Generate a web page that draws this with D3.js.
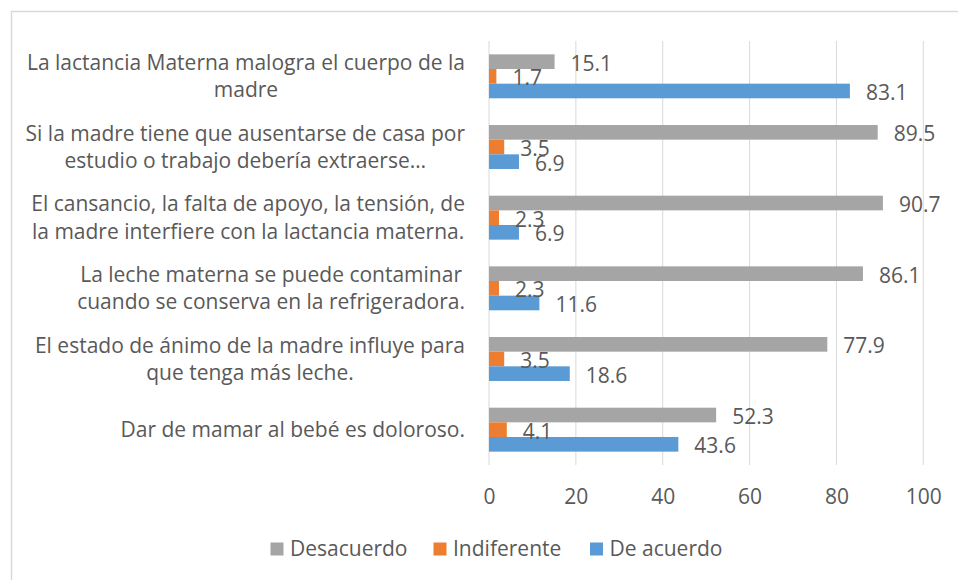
<!DOCTYPE html>
<html>
<head>
<meta charset="utf-8">
<script src="https://cdn.jsdelivr.net/npm/d3@7"></script>
<style>
  html, body { margin: 0; padding: 0; background: #fff; }
  svg text { font-family: "Open Sans", sans-serif; fill: #595959; }
</style>
</head>
<body>
<div id="chart"></div>
<script>
// categories, top to bottom, already split in lines as in the original
const categories = [
  ["La lactancia Materna malogra el cuerpo de la", "madre"],
  ["Si la madre tiene que ausentarse de casa por", "estudio o trabajo debería extraerse…"],
  ["El cansancio, la falta de apoyo, la tensión, de", "la madre interfiere con la lactancia materna."],
  ["La leche materna se puede contaminar", "cuando se conserva en la refrigeradora."],
  ["El estado de ánimo de la madre influye para", "que tenga más leche."],
  ["Dar de mamar al bebé es doloroso."]
];
const seriesNames = ["Desacuerdo", "Indiferente", "De acuerdo"];
const desacuerdo = [15.1, 89.5, 90.7, 86.1, 77.9, 52.3];
const indiferente = [1.7, 3.5, 2.3, 2.3, 3.5, 4.1];
const deAcuerdo = [83.1, 6.9, 6.9, 11.6, 18.6, 43.6];
const xTicks = [0, 20, 40, 60, 80, 100];

const colors = ["#a5a5a5", "#ed7d31", "#5b9bd5"];
const seriesValues = [desacuerdo, indiferente, deAcuerdo];

const width = 958, height = 580;
const fs = 21;

const svg = d3.select("#chart").append("svg")
  .attr("width", width)
  .attr("height", height);

// chart frame (only top and left edges visible)
svg.append("rect")
  .attr("x", 11.5).attr("y", 11.5)
  .attr("width", 1000).attr("height", 700)
  .attr("fill", "none")
  .attr("stroke", "#d9d9d9")
  .attr("stroke-width", 1.5);

const x = d3.scaleLinear().domain([0, 100]).range([489, 923.3]);

const y = d3.scaleBand()
  .domain(d3.range(categories.length))
  .range([41, 465])
  .paddingInner(0.378)
  .paddingOuter(0.189);

const ySub = d3.scaleBand()
  .domain(d3.range(seriesNames.length))
  .range([0, y.bandwidth()]);

// gridlines
svg.append("g")
  .selectAll("line")
  .data(xTicks)
  .join("line")
  .attr("x1", d => x(d)).attr("x2", d => x(d))
  .attr("y1", 41).attr("y2", 465)
  .attr("stroke", "#d9d9d9")
  .attr("stroke-width", 1);

// x axis labels
const xAxis = svg.append("g")
  .attr("transform", "translate(0,465)")
  .call(d3.axisBottom(x).tickValues(xTicks).tickSize(0).tickPadding(0));
xAxis.select(".domain").remove();
xAxis.selectAll("text")
  .attr("y", 32)
  .attr("dy", "0.35em")
  .style("font-size", fs + "px")
  .style("font-family", "'Open Sans', sans-serif")
  .attr("fill", "#595959");

// bars
const rows = [];
categories.forEach((c, i) => {
  seriesValues.forEach((vals, s) => {
    rows.push({ cat: i, s: s, value: vals[i] });
  });
});

svg.append("g")
  .selectAll("rect")
  .data(rows)
  .join("rect")
  .attr("x", x(0))
  .attr("y", d => y(d.cat) + ySub(d.s))
  .attr("width", d => x(d.value) - x(0))
  .attr("height", ySub.bandwidth())
  .attr("fill", d => colors[d.s]);

// value labels
svg.append("g")
  .selectAll("text")
  .data(rows)
  .join("text")
  .attr("x", d => x(d.value) + 16)
  .attr("y", d => y(d.cat) + ySub(d.s) + ySub.bandwidth() / 2 + 1.5)
  .attr("dy", "0.35em")
  .style("font-size", fs + "px")
  .text(d => d.value.toFixed(1));

// category labels: block right aligned, lines centred inside it
const lineH = 27.5;
const labelRight = 465;
categories.forEach((lines, i) => {
  const cy = y(i) + y.bandwidth() / 2;
  const g = svg.append("g");
  const texts = g.selectAll("text")
    .data(lines)
    .join("text")
    .attr("y", (d, j) => cy + (j - (lines.length - 1) / 2) * lineH)
    .attr("dy", "0.35em")
    .attr("text-anchor", "middle")
    .style("font-size", fs + "px")
    .text(d => d);
  let maxW = 0;
  texts.each(function () { maxW = Math.max(maxW, this.getComputedTextLength()); });
  texts.attr("x", labelRight - maxW / 2);
});

// legend
const legendX = [270.5, 433.5, 590];
const legend = svg.append("g")
  .selectAll("g")
  .data(seriesNames)
  .join("g")
  .attr("transform", (d, i) => `translate(${legendX[i]},549)`);
legend.append("rect")
  .attr("x", 0).attr("y", -6.5)
  .attr("width", 13).attr("height", 13)
  .attr("fill", (d, i) => colors[i]);
legend.append("text")
  .attr("x", 19.5)
  .attr("dy", "0.35em")
  .style("font-size", fs + "px")
  .text(d => d);
</script>
</body>
</html>
